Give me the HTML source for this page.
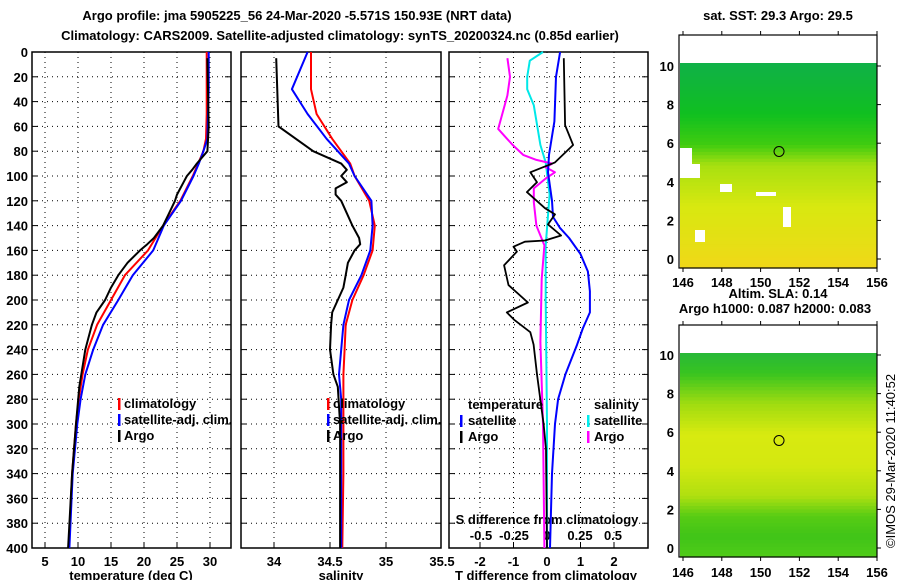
<!DOCTYPE html>
<html><head><meta charset="utf-8"><style>
body{margin:0;background:#fff}
svg{display:block;font-family:"Liberation Sans",sans-serif;font-weight:bold}
text{font-size:13px}
</style></head><body>
<svg id="c" width="900" height="580" viewBox="0 0 900 580">
<g id="root"></g>
</svg>
<script>
// ---- data ----
const depthClim=[0,30,50,70,80,90,100,120,140,160,180,200,220,240,260,280,300,340,400];
const tempClim=[29.5,29.5,29.5,29.4,29,28.2,27.4,25.5,22.9,20.6,17.1,15,12.9,11.5,10.7,10.1,9.7,9.1,8.6];
const tempSat=[29.8,29.8,29.7,29.6,29,28.3,27.5,25.6,23,21.4,18.3,16.1,13.8,12.3,11.1,10.4,9.9,9.2,8.7];
const salClim=[34.33,34.33,34.38,34.52,34.6,34.68,34.72,34.85,34.9,34.88,34.8,34.7,34.64,34.63,34.62,34.62,34.62,34.62,34.61];
const salSat=[34.3,34.16,34.3,34.47,34.57,34.67,34.72,34.87,34.88,34.86,34.78,34.67,34.62,34.6,34.58,34.6,34.6,34.6,34.6];
const depthArgo=[5,60,80,90,95,100,105,110,115,120,130,140,150,155,160,170,180,190,200,210,220,240,260,270,300,340,400];
const tempArgo=[29.6,29.8,29.6,28,27.3,26.5,26,25.5,25,24.7,23.8,22.9,21.5,20.5,19.4,17.5,16.1,15,14.1,12.8,12.1,11.1,10.5,10.2,9.7,9.1,8.5];
const salArgo=[34.02,34.04,34.35,34.6,34.65,34.6,34.65,34.55,34.55,34.6,34.65,34.7,34.76,34.77,34.72,34.66,34.64,34.62,34.57,34.52,34.51,34.5,34.53,34.57,34.59,34.59,34.59];
const depthDT=[0,20,56,83,97,120,133,142,150,163,177,193,210,223,236,260,280,300,340,400];
const tDiffSat=[0.39,0.27,0.22,0.06,0.03,0.15,0.18,0.39,0.66,1.0,1.22,1.28,1.28,1.07,0.9,0.55,0.33,0.24,0.15,0.09];
const depthDA=[5,59,75,89,97,105,113,126,131,139,148,152,153,157,161,172,188,202,210,216,226,236,260,280,300,320,400];
const tDiffArgo=[0.5,0.54,0.78,0.24,-0.5,-0.3,-0.6,-0.06,0.24,0.03,0.42,-0.06,-0.66,-1.0,-0.9,-1.28,-1.15,-0.57,-1.2,-0.98,-0.5,-0.4,-0.3,-0.2,-0.1,-0.03,0];
const depthDS=[0,7,20,30,43,75,89,115,156,200,300,400];
const sDiffSat=[-0.03,-0.13,-0.15,-0.15,-0.1,-0.05,-0.01,0.02,-0.01,-0.01,0,0];
const depthDM=[5,20,35,62,68,75,83,87,90,93,97,102,110,121,140,156,183,234,300,400];
const sDiffArgo=[-0.3,-0.28,-0.3,-0.37,-0.32,-0.26,-0.18,-0.08,0.04,-0.01,0.06,-0.01,-0.1,-0.1,-0.08,-0.02,-0.04,-0.05,-0.03,-0.02];
const depthTicks=[0,20,40,60,80,100,120,140,160,180,200,220,240,260,280,300,320,340,360,380,400];
const tTicks=[5,10,15,20,25,30];
const sTicks=[34,34.5,35,35.5];
const dTTicks=[-2,-1,0,1,2];
const dSTicks=[-0.5,-0.25,0,0.25,0.5];
const dSLabels=["-0.5","-0.25","0","0.25","0.5"];
const lonTicks=[146,148,150,152,154,156];
const latTicks=[0,2,4,6,8,10];
const argoPos=[150.95,5.57];

const NS="http://www.w3.org/2000/svg";
const root=document.getElementById('root');
function mk(tag,at,parent){const e=document.createElementNS(NS,tag);for(const k in at)e.setAttribute(k,at[k]);(parent||root).appendChild(e);return e;}
function txt(x,y,s,anchor,name,size){const t=mk('text',{x:x,y:y,'text-anchor':anchor||'start'});if(size)t.setAttribute('font-size',size);t.textContent=s;

return t;}

const yD=d=>52+d*1.24;
const xT=v=>45+(v-5)*6.6;
const xS=v=>274+(v-34)*112;
const xDT=v=>547+v*33.5;
const xDS=v=>547+v*132;

function panel(x0,x1,xt,xf,name){
  const g=mk('g',{});
  
  
  depthTicks.forEach(d=>{if(d>0&&d<400){mk('line',{x1:x0,x2:x1,y1:yD(d),y2:yD(d),stroke:'#000','stroke-dasharray':'1 4'},g);
    mk('line',{x1:x0,x2:x0+6,y1:yD(d),y2:yD(d),stroke:'#000'},g);mk('line',{x1:x1-6,x2:x1,y1:yD(d),y2:yD(d),stroke:'#000'},g);}});
  xt.forEach(v=>{const x=xf(v);if(x>x0+1&&x<x1-1){mk('line',{x1:x,x2:x,y1:52,y2:548,stroke:'#000','stroke-dasharray':'1 4'},g);
    mk('line',{x1:x,x2:x,y1:548,y2:542,stroke:'#000'},g);}});
  mk('rect',{x:x0,y:52,width:x1-x0,height:496,fill:'none',stroke:'#000','stroke-width':1.5},g);
  return g;
}
function line(xs,ds,xf,col,name,w){
  const p=xs.map((v,i)=>(i?'L':'M')+xf(v).toFixed(1)+','+yD(ds[i]).toFixed(1)).join('');
  const e=mk('path',{d:p,fill:'none',stroke:col,'stroke-width':w||2,'stroke-linejoin':'round'});
  
  
}

txt(297,20,'Argo profile: jma 5905225_56 24-Mar-2020 -5.571S 150.93E (NRT data)','middle','title-line-1',14);
txt(340,40,'Climatology: CARS2009. Satellite-adjusted climatology: synTS_20200324.nc (0.85d earlier)','middle','title-line-2',14);

// panel 1
panel(32,231,tTicks,xT,'temperature-panel');
depthTicks.forEach(d=>txt(28,yD(d)+5,String(d),'end','depth-tick-label'));
tTicks.forEach(v=>txt(xT(v),566,String(v),'middle','temperature-tick-label'));
txt(131,580,'temperature (deg C)','middle','temperature-axis-title');
line(tempClim,depthClim,xT,'#ff0000','temp-climatology-line');
line(tempSat,depthClim,xT,'#0000ff','temp-satellite-line');
line(tempArgo,depthArgo,xT,'#000','temp-argo-line');
[['climatology','#f00',408],['satellite-adj. clim.','#00f',424],['Argo','#000',440]].forEach(a=>{
  mk('rect',{x:118,y:a[2]-10,width:2.5,height:12,fill:a[1]});txt(124,a[2],a[0],'start','temp-legend-entry');});

// panel 2
panel(241,441,sTicks,xS,'salinity-panel');
sTicks.forEach(v=>txt(xS(v),566,String(v),'middle','salinity-tick-label'));
txt(341,580,'salinity','middle','salinity-axis-title');
line(salClim,depthClim,xS,'#ff0000','sal-climatology-line');
line(salSat,depthClim,xS,'#0000ff','sal-satellite-line');
line(salArgo,depthArgo,xS,'#000','sal-argo-line');
[['climatology','#f00',408],['satellite-adj. clim.','#00f',424],['Argo','#000',440]].forEach(a=>{
  mk('rect',{x:327,y:a[2]-10,width:2.5,height:12,fill:a[1]});txt(333,a[2],a[0],'start','sal-legend-entry');});

// panel 3
panel(449,648,dTTicks,xDT,'difference-panel');
dTTicks.forEach(v=>txt(xDT(v),566,String(v),'middle','t-diff-tick-label'));
txt(546,580,'T difference from climatology','middle','t-diff-axis-title');
txt(547,524,'S difference from climatology','middle','s-diff-axis-title');
dSTicks.forEach((v,i)=>txt(xDS(v),540,dSLabels[i],'middle','s-diff-tick-label'));
line(sDiffSat,depthDS,xDS,'#00e8e8','s-diff-satellite-line');
line(sDiffArgo,depthDM,xDS,'#ff00ff','s-diff-argo-line');
line(tDiffSat,depthDT,xDT,'#0000ff','t-diff-satellite-line');
line(tDiffArgo,depthDA,xDT,'#000','t-diff-argo-line',1.8);
txt(468,409,'temperature','start','legend-temperature-header');
txt(594,409,'salinity','start','legend-salinity-header');
[['satellite','#00f',425],['Argo','#000',441]].forEach(a=>{mk('rect',{x:460,y:a[2]-10,width:2.5,height:12,fill:a[1]});txt(468,a[2],a[0],'start','t-diff-legend-entry');});
[['satellite','#0ee',425],['Argo','#f0f',441]].forEach(a=>{mk('rect',{x:587,y:a[2]-10,width:2.5,height:12,fill:a[1]});txt(594,a[2],a[0],'start','s-diff-legend-entry');});

// maps: colour background drawn as horizontal bands
function hex(c){return [parseInt(c.substr(1,2),16),parseInt(c.substr(3,2),16),parseInt(c.substr(5,2),16)];}
function bands(g,y0,y1,stops){
  const n=60,h=(y1-y0)/n;
  for(let i=0;i<n;i++){
    const t=(i+0.5)/n;let k=0;while(k<stops.length-2&&stops[k+1][0]<t)k++;
    const a=stops[k],b=stops[k+1],f=Math.max(0,Math.min(1,(t-a[0])/(b[0]-a[0])));
    const ca=hex(a[1]),cb=hex(b[1]);const c=ca.map((v,j)=>Math.round(v+(cb[j]-v)*f));
    mk('rect',{x:680,y:(y0+i*h).toFixed(2),width:197,height:(h+0.6).toFixed(2),fill:'rgb('+c.join(',')+')'},g);
  }
}
function map(y0,y1,top,lat0y,lat10y,stops,name,labelY){
  const xL=v=>683+(v-146)*19.4;
  const yL=v=>lat0y+(lat10y-lat0y)*v/10;
  const g=mk('g',{});
  
  
  mk('rect',{x:679,y:top,width:198,height:y1-top,fill:'#fff'},g);
  bands(g,y0,y1,stops);
  mk('rect',{x:679,y:top,width:198,height:y1-top,fill:'none',stroke:'#000','stroke-width':1.2},g);
  lonTicks.forEach(v=>{mk('line',{x1:xL(v),x2:xL(v),y1:top-4,y2:top,stroke:'#000'},g);mk('line',{x1:xL(v),x2:xL(v),y1:y1,y2:y1+4,stroke:'#000'},g);
    txt(xL(v),labelY,String(v),'middle','longitude-tick-label');});
  latTicks.forEach(v=>{mk('line',{x1:877,x2:881,y1:yL(v),y2:yL(v),stroke:'#000'},g);txt(674,yL(v)+5,String(v),'end','latitude-tick-label');});
  return {g:g,xL:xL,yL:yL};
}
function marker(m){
  const c=mk('circle',{cx:m.xL(argoPos[0]),cy:m.yL(argoPos[1]),r:5,fill:'none',stroke:'#000'},m.g);
  
  
}
txt(778,20,'sat. SST: 29.3 Argo: 29.5','middle','sst-map-title',12);
const m1=map(63,268,35,259,66,[[0,'#10b048'],[0.25,'#10c020'],[0.4,'#40cc10'],[0.5,'#a8e010'],[0.7,'#d8e810'],[1,'#f0d818']],'sst-map',287);
[[680,148,12,16],[680,164,20,14],[720,184,12,8],[756,192,20,4],[783,207,8,20],[695,230,10,12]].forEach(r=>mk('rect',{x:r[0],y:r[1],width:r[2],height:r[3],fill:'#fff'},m1.g));
marker(m1);
txt(778,298,'Altim. SLA: 0.14','middle','sla-map-title',12);
txt(775,313,'Argo h1000: 0.087 h2000: 0.083','middle','steric-height-label',12);
const m2=map(353,557,325,548,355,[[0,'#28b838'],[0.1,'#38c420'],[0.25,'#a0dc10'],[0.4,'#d8ea10'],[0.55,'#d4e810'],[0.7,'#b0e010'],[0.8,'#58cc14'],[0.9,'#40c418'],[1,'#50cc18']],'sla-map',577);
marker(m2);
const ts=txt(0,0,'©IMOS 29-Mar-2020 11:40:52','start','timestamp-credit',12);
ts.setAttribute('transform','translate(895,548) rotate(-90)');
ts.setAttribute('font-weight','normal');
</script>
</body></html>
